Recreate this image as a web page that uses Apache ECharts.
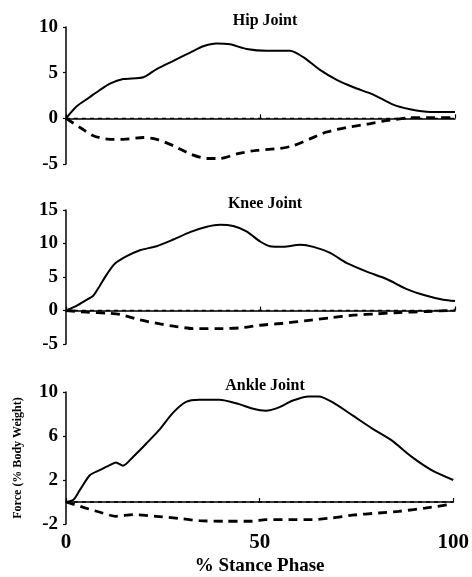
<!DOCTYPE html>
<html>
<head>
<meta charset="utf-8">
<script src="https://cdn.jsdelivr.net/npm/echarts@6/dist/echarts.min.js"></script>
<style>
  html, body { margin: 0; padding: 0; background: #fff; }
  #chart { width: 472px; height: 577px; }
</style>
</head>
<body>
<div id="chart"></div>
<script>
// % stance phase + force (% body weight)
const panelTitles = ['Hip Joint', 'Knee Joint', 'Ankle Joint']
const xTicks = [0, 50, 100]
const zeroX = [0, 100]
const zeroY = [0, 0]

// hip
const hipSolidX = [0, 2.7, 5.7, 8.7, 11.3, 14.7, 19.9, 23.3, 27.6, 31.9, 35.3, 38.7, 42.2, 46.4, 51.6, 57.6, 61, 65.3, 69.6, 73.9, 79, 84.1, 88.4, 93.6, 100]
const hipSolid = [0, 1.3, 2.2, 3.1, 3.8, 4.3, 4.5, 5.4, 6.3, 7.2, 7.9, 8.2, 8.1, 7.6, 7.4, 7.4, 6.7, 5.3, 4.2, 3.4, 2.6, 1.5, 1.0, 0.7, 0.7]
const hipDashX = [0, 3.6, 7, 11.3, 14.7, 19.9, 23.3, 27.6, 31.9, 36.2, 39.6, 43.9, 49, 55, 58.4, 62.7, 67, 72.1, 77.3, 81.6, 85, 88.4, 94.4, 100]
const hipDash = [0, -1.0, -1.9, -2.3, -2.3, -2.1, -2.3, -3.0, -3.9, -4.4, -4.4, -3.9, -3.5, -3.3, -3.0, -2.25, -1.5, -1.0, -0.64, -0.3, -0.1, 0.07, 0.07, 0.07]

// knee
const kneeSolidX = [0, 2.7, 5.3, 7, 8.7, 10.5, 12.6, 15.6, 19, 23.3, 27.6, 31.9, 36.2, 39.6, 43, 46.4, 49.9, 52.4, 55.9, 60.2, 63.6, 67.9, 72.1, 77.3, 82.4, 87.6, 92.7, 97, 100]
const kneeSolid = [0, 0.7, 1.6, 2.2, 3.7, 5.4, 7.0, 8.1, 9.0, 9.6, 10.6, 11.7, 12.5, 12.8, 12.6, 11.8, 10.3, 9.6, 9.5, 9.8, 9.5, 8.6, 7.1, 5.8, 4.7, 3.2, 2.2, 1.6, 1.4]
const kneeDashX = [0, 5.3, 10.5, 13.9, 19, 24.2, 28.4, 32.7, 38.7, 44.7, 49.9, 55.9, 61.9, 67.9, 73.9, 79.9, 85.9, 92.7, 100]
const kneeDash = [0, -0.25, -0.4, -0.6, -1.4, -2.0, -2.4, -2.7, -2.7, -2.6, -2.2, -1.9, -1.5, -1.1, -0.7, -0.5, -0.3, -0.15, 0.05]

// ankle
const ankleSolidX = [0, 1.9, 3.6, 6.2, 8.7, 11.3, 12.9, 14.7, 17.3, 20.7, 24.2, 27.6, 31, 34.4, 39.6, 44.7, 48.1, 51.6, 55, 58.4, 62.7, 65.3, 68.7, 73.9, 79, 84.1, 89.3, 94.4, 100]
const ankleSolid = [0, 0.2, 1.1, 2.45, 2.9, 3.35, 3.6, 3.3, 4.1, 5.3, 6.6, 8.1, 9.1, 9.3, 9.3, 8.9, 8.5, 8.3, 8.6, 9.2, 9.6, 9.6, 9.1, 7.9, 6.7, 5.6, 4.1, 2.9, 2.0]
const ankleDashX = [0, 5.1, 9.4, 12.9, 17.3, 23.3, 29.3, 34.4, 41.3, 48.1, 51.6, 57.6, 63.6, 68.7, 73.9, 80.7, 85.9, 92.7, 98.7]
const ankleDash = [0, -0.55, -1.0, -1.3, -1.15, -1.3, -1.5, -1.7, -1.75, -1.75, -1.6, -1.6, -1.6, -1.45, -1.2, -1.0, -0.85, -0.55, -0.25]

const yMin = [-5, -5, -2]
const yMax = [10, 15, 10]
const yStep = [5, 5, 4]

const serif = '"Liberation Serif", "DejaVu Serif", serif'
const zip = (xs, ys) => xs.map((x, i) => [x, ys[i]])

const gridTops = [27, 210, 392]
const gridH = [137, 134, 134]

const grids = gridTops.map((t, i) => ({ left: 66, right: 17, top: t, height: gridH[i] }))

const titles = panelTitles.map((txt, i) => ({
  text: txt,
  left: 260,
  top: gridTops[i] - 19,
  textAlign: 'center',
  textStyle: { fontFamily: serif, fontWeight: 'bold', fontSize: 16, color: '#000' }
}))

const xAxes = [0, 1, 2].map(i => ({
  type: 'value',
  gridIndex: i,
  min: xTicks[0],
  max: xTicks[2],
  interval: 50,
  axisLine: { show: true, lineStyle: { color: '#000', width: 1.5 } },
  axisTick: { show: true, inside: true, length: 4, lineStyle: { color: '#000', width: 1.2 } },
  axisLabel: {
    show: i === 2, margin: 8,
    fontFamily: serif, fontWeight: 'bold', fontSize: 21, color: '#000'
  },
  splitLine: { show: false },
  name: i === 2 ? '% Stance Phase' : '',
  nameLocation: 'middle',
  nameGap: 33,
  nameTextStyle: { fontFamily: serif, fontWeight: 'bold', fontSize: 19, color: '#000' }
}))

const yAxes = [0, 1, 2].map(i => ({
  type: 'value',
  gridIndex: i,
  min: yMin[i],
  max: yMax[i],
  interval: yStep[i],
  axisLine: { show: true, lineStyle: { color: '#000', width: 1.5 } },
  axisTick: { show: true, length: 3, lineStyle: { color: '#000', width: 1.2 } },
  axisLabel: { margin: 8, fontFamily: serif, fontWeight: 'bold', fontSize: 19, color: '#000' },
  splitLine: { show: false },
  name: i === 2 ? 'Force (% Body Weight)' : '',
  nameLocation: 'middle',
  nameGap: 42,
  nameTextStyle: { fontFamily: serif, fontWeight: 'bold', fontSize: 12, color: '#000' }
}))

const solidStyle = { color: '#000', width: 2 }
const dashStyle = { color: '#000', width: 2.8, type: [9, 6] }
const zeroStyle = { color: '#000', width: 1.3, type: [4, 4] }

const mk = (i, data, style) => ({
  type: 'line',
  xAxisIndex: i,
  yAxisIndex: i,
  data: data,
  showSymbol: false,
  smooth: 0.25,
  lineStyle: style,
  silent: true
})

const series = [
  mk(0, zip(zeroX, zeroY), zeroStyle),
  mk(0, zip(hipSolidX, hipSolid), solidStyle),
  mk(0, zip(hipDashX, hipDash), dashStyle),
  mk(1, zip(zeroX, zeroY), zeroStyle),
  mk(1, zip(kneeSolidX, kneeSolid), solidStyle),
  mk(1, zip(kneeDashX, kneeDash), dashStyle),
  mk(2, zip(zeroX, zeroY), zeroStyle),
  mk(2, zip(ankleSolidX, ankleSolid), solidStyle),
  mk(2, zip(ankleDashX, ankleDash), dashStyle)
]

const myChart = echarts.init(document.getElementById('chart'))
myChart.setOption({
  animation: false,
  backgroundColor: '#fff',
  title: titles,
  grid: grids,
  xAxis: xAxes,
  yAxis: yAxes,
  series: series
})
</script>
</body>
</html>
